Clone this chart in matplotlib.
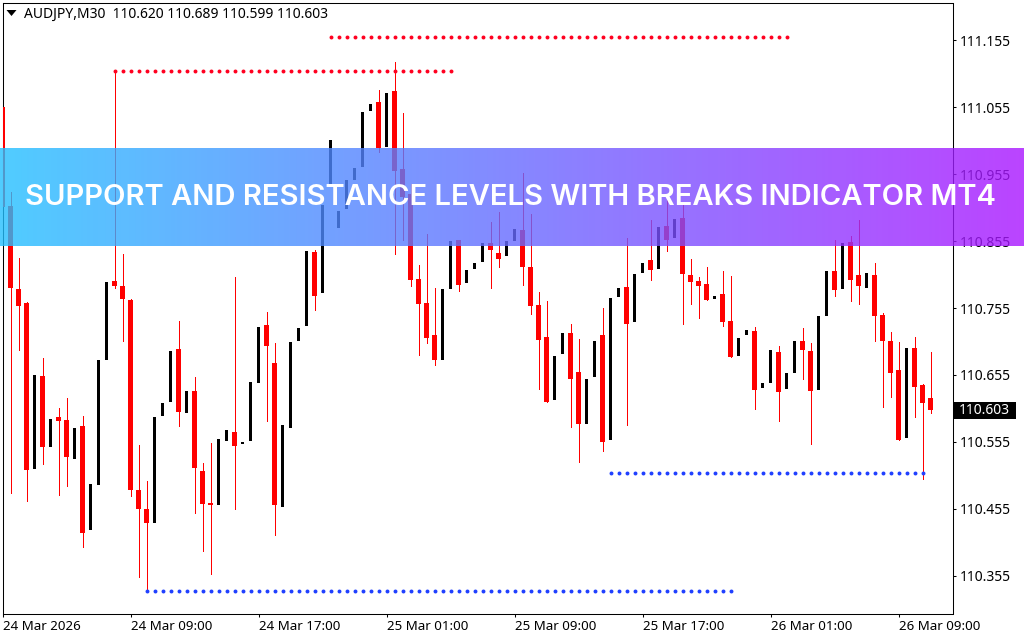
import matplotlib
matplotlib.use("Agg")
import matplotlib.pyplot as plt
import numpy as np
from matplotlib.patches import Polygon, Rectangle

opens = [
    111.055, 110.907, 110.783, 110.763, 110.515, 110.654, 110.547, 110.592, 110.588, 110.530,
    110.579, 110.424, 110.491, 110.677, 110.795, 110.788, 110.767, 110.483, 110.455, 110.434,
    110.594, 110.615, 110.694, 110.598, 110.631, 110.512, 110.464, 110.461, 110.557, 110.570,
    110.552, 110.557, 110.643, 110.730, 110.673, 110.458, 110.576, 110.706, 110.728, 110.839,
    110.778, 110.939, 110.874, 110.903, 110.946, 110.966, 111.049, 111.062, 110.995, 111.079,
    110.963, 110.925, 110.798, 110.763, 110.715, 110.677, 110.783, 110.857, 110.793, 110.813,
    110.824, 110.852, 110.837, 110.833, 110.855, 110.872, 110.816, 110.760, 110.712, 110.618,
    110.686, 110.718, 110.660, 110.582, 110.652, 110.715, 110.558, 110.771, 110.786, 110.734,
    110.807, 110.827, 110.813, 110.878, 110.860, 110.889, 110.804, 110.795, 110.791, 110.768,
    110.776, 110.736, 110.683, 110.715, 110.721, 110.636, 110.643, 110.689, 110.634, 110.658,
    110.706, 110.691, 110.633, 110.743, 110.810, 110.783, 110.854, 110.804, 110.785, 110.804,
    110.745, 110.706, 110.663, 110.561, 110.695, 110.640, 110.620,
]
highs = [
    111.061, 110.928, 110.830, 110.764, 110.655, 110.680, 110.589, 110.606, 110.621, 110.576,
    110.594, 110.492, 110.677, 110.794, 111.109, 110.836, 110.768, 110.551, 110.497, 110.592,
    110.613, 110.691, 110.736, 110.631, 110.652, 110.524, 110.553, 110.560, 110.573, 110.801,
    110.555, 110.645, 110.727, 110.749, 110.703, 110.580, 110.704, 110.725, 110.840, 110.842,
    110.909, 111.006, 110.900, 110.946, 110.964, 111.048, 111.059, 111.080, 111.076, 111.122,
    111.046, 110.940, 110.819, 110.866, 110.785, 110.783, 110.855, 110.857, 110.812, 110.822,
    110.852, 110.883, 110.898, 110.855, 110.873, 110.957, 110.895, 110.779, 110.765, 110.683,
    110.718, 110.731, 110.709, 110.649, 110.706, 110.755, 110.770, 110.785, 110.860, 110.806,
    110.822, 110.886, 110.876, 110.922, 110.888, 110.909, 110.828, 110.801, 110.816, 110.773,
    110.810, 110.803, 110.710, 110.722, 110.727, 110.643, 110.692, 110.698, 110.658, 110.706,
    110.725, 110.703, 110.743, 110.810, 110.857, 110.852, 110.862, 110.886, 110.807, 110.822,
    110.748, 110.719, 110.704, 110.695, 110.712, 110.642, 110.689,
]
lows = [
    110.842, 110.479, 110.692, 110.467, 110.515, 110.522, 110.547, 110.476, 110.489, 110.530,
    110.398, 110.424, 110.491, 110.677, 110.785, 110.706, 110.474, 110.354, 110.334, 110.434,
    110.594, 110.615, 110.579, 110.598, 110.449, 110.392, 110.358, 110.461, 110.557, 110.455,
    110.552, 110.557, 110.643, 110.586, 110.416, 110.458, 110.576, 110.706, 110.728, 110.752,
    110.778, 110.939, 110.874, 110.903, 110.946, 110.966, 111.049, 110.988, 110.995, 110.836,
    110.857, 110.788, 110.685, 110.703, 110.670, 110.677, 110.783, 110.780, 110.793, 110.813,
    110.824, 110.785, 110.816, 110.833, 110.855, 110.789, 110.746, 110.634, 110.615, 110.618,
    110.686, 110.577, 110.525, 110.582, 110.652, 110.542, 110.558, 110.771, 110.580, 110.734,
    110.807, 110.797, 110.813, 110.840, 110.860, 110.731, 110.761, 110.740, 110.767, 110.768,
    110.728, 110.682, 110.683, 110.715, 110.604, 110.636, 110.643, 110.586, 110.634, 110.658,
    110.649, 110.552, 110.633, 110.743, 110.773, 110.783, 110.765, 110.761, 110.785, 110.706,
    110.607, 110.622, 110.558, 110.561, 110.592, 110.500, 110.599,
]
closes = [
    110.906, 110.785, 110.758, 110.513, 110.655, 110.547, 110.589, 110.586, 110.533, 110.576,
    110.419, 110.492, 110.677, 110.794, 110.788, 110.768, 110.483, 110.455, 110.434, 110.592,
    110.613, 110.691, 110.600, 110.631, 110.516, 110.462, 110.461, 110.560, 110.573, 110.549,
    110.555, 110.645, 110.727, 110.698, 110.461, 110.580, 110.704, 110.725, 110.840, 110.773,
    110.909, 111.006, 110.900, 110.946, 110.964, 111.048, 111.059, 110.994, 111.076, 110.960,
    110.921, 110.797, 110.761, 110.710, 110.677, 110.783, 110.855, 110.789, 110.812, 110.822,
    110.852, 110.842, 110.828, 110.855, 110.873, 110.816, 110.758, 110.707, 110.615, 110.683,
    110.718, 110.649, 110.582, 110.649, 110.706, 110.555, 110.770, 110.785, 110.731, 110.806,
    110.822, 110.812, 110.876, 110.857, 110.888, 110.806, 110.794, 110.788, 110.767, 110.773,
    110.734, 110.682, 110.710, 110.722, 110.633, 110.643, 110.692, 110.630, 110.658, 110.706,
    110.692, 110.631, 110.743, 110.810, 110.782, 110.852, 110.797, 110.788, 110.807, 110.743,
    110.706, 110.658, 110.558, 110.695, 110.637, 110.613, 110.603,
]

# indicator levels: price, first bar, last bar
res_levels = [(111.109, 14, 56), (111.160, 41, 98)]
sup_levels = [(110.333, 18, 91), (110.509, 76, 115)]

y_ticks = [110.355, 110.455, 110.555, 110.655, 110.755, 110.855, 110.955, 111.055, 111.155]
x_tick_bars = [0, 16, 32, 48, 64, 80, 96, 112]
x_tick_labels = ["24 Mar 2026", "24 Mar 09:00", "24 Mar 17:00", "25 Mar 01:00",
                 "25 Mar 09:00", "25 Mar 17:00", "26 Mar 01:00", "26 Mar 09:00"]
header = "AUDJPY,M30  110.620 110.689 110.599 110.603"
last_price = "110.603"
banner_text = "SUPPORT AND RESISTANCE LEVELS WITH BREAKS INDICATOR MT4"

W, H = 1024, 640
UI_FONT = "Noto Sans"

fig = plt.figure(figsize=(W / 100, H / 100), dpi=100)
ax = fig.add_axes([2.5 / W, 1 - 613.5 / H, 950 / W, 611 / H])

o = np.array(opens)
h = np.array(highs)
l = np.array(lows)
c = np.array(closes)
bars = np.arange(len(o))
down = c < o

ax.vlines(bars[down], l[down], h[down], color="#ff0000", lw=0.72, antialiased=False, zorder=2)
ax.bar(bars[down], (o - c)[down], bottom=c[down], width=0.625, color="#ff0000", lw=0,
       antialiased=False, zorder=3)
ax.bar(bars[~down], (c - o)[~down], bottom=o[~down], width=0.375, color="black", lw=0,
       antialiased=False, zorder=3)

for price, first, last in res_levels:
    xs = np.arange(first, last + 1)
    ax.scatter(xs, np.full(len(xs), price), s=8, color="#ff0020", lw=0, zorder=4)
for price, first, last in sup_levels:
    xs = np.arange(first, last + 1)
    ax.scatter(xs, np.full(len(xs), price), s=8, color="#2040ff", lw=0, zorder=4)

ax.set_xlim(-0.0625, 118.69)
ax.set_ylim(110.299, 111.211)

ax.yaxis.tick_right()
ax.set_yticks(y_ticks)
ax.set_yticklabels([f"{v:.3f}" for v in y_ticks], fontfamily=UI_FONT, fontsize=10)
ax.set_xticks(x_tick_bars)
ax.set_xticklabels(x_tick_labels, ha="left", fontfamily=UI_FONT, fontsize=9.6)
ax.tick_params(axis="y", length=2.5, width=0.75, pad=3)
ax.tick_params(axis="x", length=2.5, width=0.75, pad=2.5)
for s in ax.spines.values():
    s.set_linewidth(0.75)

# chart header
fig.text(24 / W, 1 - 14 / H, header, fontfamily=UI_FONT, fontsize=10, va="center")
fig.add_artist(Polygon([[6.5 / W, 1 - 10 / H], [16.5 / W, 1 - 10 / H], [11.5 / W, 1 - 16 / H]],
                       closed=True, color="black", lw=0, transform=fig.transFigure))

# last price tag
fig.add_artist(Rectangle((954 / W, 1 - 419 / H), 62 / W, 17 / H, color="black", lw=0,
                         transform=fig.transFigure))
fig.text(959 / W, 1 - 410.5 / H, last_price, color="white", fontfamily=UI_FONT,
         fontsize=10, va="center")

# gradient banner on top of everything
overlay = fig.add_axes([0, 1 - 246 / H, 1, 98 / H], zorder=10)
alpha = 0.8
left = (np.array([80, 205, 255]) - 255 * (1 - alpha)) / alpha / 255
right = (np.array([187, 68, 255]) - 255 * (1 - alpha)) / alpha / 255
t = np.linspace(0, 1, W)[None, :, None]
grad = left[None, None, :] * (1 - t) + right[None, None, :] * t
rgba = np.dstack([grad, np.full((1, W), alpha)])
overlay.imshow(rgba, aspect="auto", extent=[0, W, 0, 1], interpolation="nearest")
overlay.axis("off")
overlay.text(510.5, 0.495, banner_text, color="white", fontfamily="Inter", fontweight="semibold",
             fontsize=21.05, ha="center", va="center")

fig.savefig("out.png", dpi=100)
